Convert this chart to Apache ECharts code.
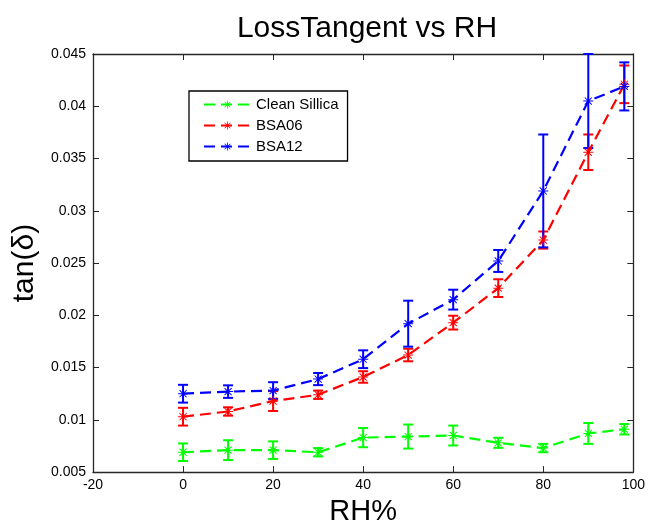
<!DOCTYPE html>
<html>
<head>
<meta charset="utf-8">
<script src="https://cdn.jsdelivr.net/npm/echarts@6/dist/echarts.min.js"></script>
<style>
  html, body { margin: 0; padding: 0; background: #ffffff; }
  #chart { width: 648px; height: 531px; }
</style>
</head>
<body>
<div id="chart"></div>
<script>
// Relative humidity (%) at which each loss tangent was measured
const rh = [0, 10, 20, 30, 40, 50, 60, 70, 80, 90, 98];

// Loss tangent means and +/- error for each sample
const cleanSillica    = [0.0069, 0.0071, 0.0071, 0.0069, 0.0083, 0.0084, 0.0085, 0.0078, 0.0073, 0.0087, 0.0091];
const cleanSillicaErr = [0.00084, 0.00095, 0.00084, 0.0004, 0.00092, 0.00115, 0.00095, 0.00048, 0.0004, 0.001, 0.0005];
const bsa06    = [0.0103, 0.0108, 0.0118, 0.0124, 0.0141, 0.0162, 0.0193, 0.0226, 0.0272, 0.0356, 0.0421];
const bsa06Err = [0.00085, 0.0004, 0.00095, 0.0004, 0.00055, 0.0006, 0.00066, 0.00085, 0.00082, 0.0017, 0.0018];
const bsa12    = [0.0125, 0.0127, 0.0128, 0.0139, 0.0158, 0.0192, 0.0215, 0.0252, 0.0319, 0.0405, 0.0419];
const bsa12Err = [0.00085, 0.0006, 0.0008, 0.00058, 0.00085, 0.0022, 0.00095, 0.00105, 0.0054, 0.0045, 0.0023];

// Axis ranges and tick spacing
const xTicks = { min: -20, max: 100, interval: 20 };
const yTicks = { min: 0.005, max: 0.045, interval: 0.005 };

const seriesDefs = [
  { name: 'Clean Sillica', color: '#00ff00', y: cleanSillica, err: cleanSillicaErr },
  { name: 'BSA06',         color: '#ff0000', y: bsa06,        err: bsa06Err },
  { name: 'BSA12',         color: '#0000ff', y: bsa12,        err: bsa12Err }
];

// Asterisk marker built from four thin bars
const asterisk = 'path://M9,0H11V20H9Z M0,9H20V11H0Z M2.2,3.6L3.6,2.2L17.8,16.4L16.4,17.8Z M16.4,2.2L17.8,3.6L3.6,17.8L2.2,16.4Z';

const FONT = '"Liberation Sans", Arial, sans-serif';
const AXIS_COLOR = '#262626';

function errorBarRenderer(color) {
  return function (params, api) {
    const x = api.value(0), y = api.value(1), e = api.value(2);
    const top = api.coord([x, y + e]);
    const bot = api.coord([x, y - e]);
    const half = 5;
    const style = { stroke: color, lineWidth: 2 };
    return {
      type: 'group',
      children: [
        { type: 'line', shape: { x1: top[0], y1: top[1], x2: bot[0], y2: bot[1] }, style: style },
        { type: 'line', shape: { x1: top[0] - half, y1: top[1], x2: top[0] + half, y2: top[1] }, style: style },
        { type: 'line', shape: { x1: bot[0] - half, y1: bot[1], x2: bot[0] + half, y2: bot[1] }, style: style }
      ]
    };
  };
}

const series = [];
seriesDefs.forEach(function (s) {
  series.push({
    name: s.name + ' error',
    type: 'custom',
    xAxisIndex: 0,
    yAxisIndex: 0,
    clip: false,
    renderItem: errorBarRenderer(s.color),
    itemStyle: { color: s.color },
    data: rh.map(function (x, i) { return [x, s.y[i], s.err[i]]; }),
    encode: { x: 0, y: 1 },
    silent: true,
    z: 2
  });
  series.push({
    name: s.name,
    type: 'line',
    xAxisIndex: 0,
    yAxisIndex: 0,
    data: rh.map(function (x, i) { return [x, s.y[i]]; }),
    symbol: asterisk,
    symbolSize: 10,
    showSymbol: true,
    color: s.color,
    itemStyle: { color: s.color },
    lineStyle: { color: s.color, width: 2.2, type: [11, 6] },
    z: 3
  });
});

const tickLabel = { color: '#000000', fontFamily: FONT, fontSize: 14 };
const inTick = { show: true, inside: true, length: 6, lineStyle: { color: AXIS_COLOR, width: 1 } };
const axisLine = { show: true, onZero: false, lineStyle: { color: AXIS_COLOR, width: 1.3 } };

const option = {
  animation: false,
  backgroundColor: '#ffffff',
  title: {
    text: 'LossTangent vs RH',
    left: 362,
    top: 9,
    textAlign: 'center',
    textStyle: { fontFamily: FONT, fontSize: 30, fontWeight: 'normal', color: '#000000' }
  },
  grid: { left: 93, right: 13, top: 54, bottom: 56, containLabel: false },
  legend: {
    orient: 'vertical',
    left: 189,
    top: 91,
    padding: [6, 9, 7, 14],
    itemGap: 6,
    itemWidth: 47,
    itemHeight: 10,
    backgroundColor: '#ffffff',
    borderColor: '#000000',
    borderWidth: 1.3,
    borderRadius: 0,
    data: seriesDefs.map(function (s) { return s.name; }),
    textStyle: { fontFamily: FONT, fontSize: 15, color: '#000000' }
  },
  xAxis: [
    {
      type: 'value',
      min: xTicks.min, max: xTicks.max, interval: xTicks.interval,
      position: 'bottom',
      name: 'RH%',
      nameLocation: 'middle',
      nameGap: 23,
      nameTextStyle: { fontFamily: FONT, fontSize: 29, color: '#000000' },
      axisLine: axisLine,
      axisTick: inTick,
      axisLabel: Object.assign({ margin: 6 }, tickLabel),
      splitLine: { show: false }
    },
    {
      type: 'value',
      min: xTicks.min, max: xTicks.max, interval: xTicks.interval,
      position: 'top',
      axisLine: axisLine,
      axisTick: inTick,
      axisLabel: { show: false },
      splitLine: { show: false }
    }
  ],
  yAxis: [
    {
      type: 'value',
      min: yTicks.min, max: yTicks.max, interval: yTicks.interval,
      position: 'left',
      name: 'tan(δ)',
      nameLocation: 'middle',
      nameGap: 52,
      nameTextStyle: { fontFamily: FONT, fontSize: 30, color: '#000000' },
      axisLine: axisLine,
      axisTick: inTick,
      axisLabel: Object.assign({
        margin: 7,
        formatter: function (v) { return String(parseFloat(v.toFixed(3))); }
      }, tickLabel),
      splitLine: { show: false }
    },
    {
      type: 'value',
      min: yTicks.min, max: yTicks.max, interval: yTicks.interval,
      position: 'right',
      axisLine: axisLine,
      axisTick: inTick,
      axisLabel: { show: false },
      splitLine: { show: false }
    }
  ],
  series: series
};

const chart = echarts.init(document.getElementById('chart'), null, { renderer: 'canvas' });
chart.setOption(option);
</script>
</body>
</html>
